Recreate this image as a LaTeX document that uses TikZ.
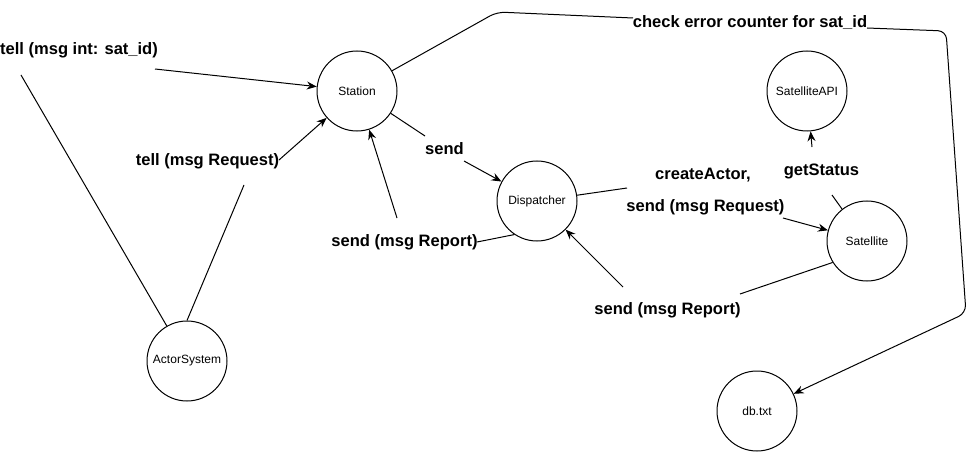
\documentclass[tikz,border=0pt]{standalone}
\usepackage{fontspec}
\setmainfont{Liberation Sans}
\usetikzlibrary{arrows.meta}

\begin{document}
\begin{tikzpicture}[
      x=0.75pt, y=-0.75pt,
      actor/.style={circle, draw=black, line width=0.75pt, minimum size=60pt, inner sep=0pt, font=\fontsize{9}{11}\selectfont},
      lbl/.style={inner sep=0pt, font=\fontsize{12.4}{14}\selectfont\bfseries},
      link/.style={draw=black, line width=0.75pt},
      msg/.style={link, -{Stealth[length=7.5pt, width=6pt, inset=2.5pt]}}
    ]
    \useasboundingbox (0,0) rectangle (976,453);

    % actors
    \node[actor] (st)   at (357,91)  {Station};
    \node[actor] (disp) at (537,201) {Dispatcher};
    \node[actor] (api)  at (807,91)  {SatelliteAPI};
    \node[actor] (sat)  at (867,241) {Satellite};
    \node[actor] (as)   at (187,361) {ActorSystem};
    \node[actor] (db)   at (757,411) {db.txt};

    % message labels
    \node[lbl] (lTellInt) at (79,50)    {tell (msg int: sat\_id)};
    \node[lbl] (lTellReq) at (207.5,161) {tell (msg Request)};
    \node[lbl] (lSend)    at (444.5,149) {send};
    \node[lbl] (lRepSt)   at (404.5,242) {send (msg Report)};
    \node[lbl] (lCreate)  at (703,175)   {createActor,};
    \node[lbl] (lSendReq) at (705.5,207) {send (msg Request)};
    \node[lbl] (lStatus)  at (821.5,171) {getStatus};
    \node[lbl] (lRepDisp) at (667.5,310) {send (msg Report)};
    \node[lbl] (lCheck)   at (750,23)    {check error counter for sat\_id};

    % break points round the labels
    \coordinate (a1) at (21,75);   \coordinate (a2) at (155,69);
    \coordinate (b1) at (244,185); \coordinate (b2) at (279,160);
    \coordinate (c1) at (425,136); \coordinate (c2) at (464,161);
    \coordinate (e1) at (477,242); \coordinate (e2) at (397,218);
    \coordinate (f1) at (627,188); \coordinate (f2) at (783,218);
    \coordinate (g1) at (832,195); \coordinate (g2) at (812,147);
    \coordinate (h1) at (740,294); \coordinate (h2) at (623,287);
    \coordinate (k1) at (497,12);  \coordinate (k2) at (633,18);
    \coordinate (k3) at (867,28);  \coordinate (k4) at (946,31);
    \coordinate (k5) at (966,313);

    % connectors
    \draw[link] (as.120) -- (a1);
    \draw[msg]  (a2) -- (st);
    \draw[link] (as.north) -- (b1);
    \draw[msg]  (b2) -- (st);
    \draw[link] (st) -- (c1);
    \draw[msg]  (c2) -- (disp);
    \draw[link] (disp.236) -- (e1);
    \draw[msg]  (e2) -- (st);
    \draw[link] (disp) -- (f1);
    \draw[msg]  (f2) -- (sat);
    \draw[link] (sat.128) -- (g1);
    \draw[msg]  (g2) -- (api);
    \draw[link] (sat.212) -- (h1);
    \draw[msg]  (h2) -- (disp);
    \draw[link, rounded corners=6pt] (st.30) -- (k1) -- (k2);
    \draw[msg, rounded corners=6pt] (k3) -- (k4) -- (k5) -- (db);
  \end{tikzpicture}
\end{document}
